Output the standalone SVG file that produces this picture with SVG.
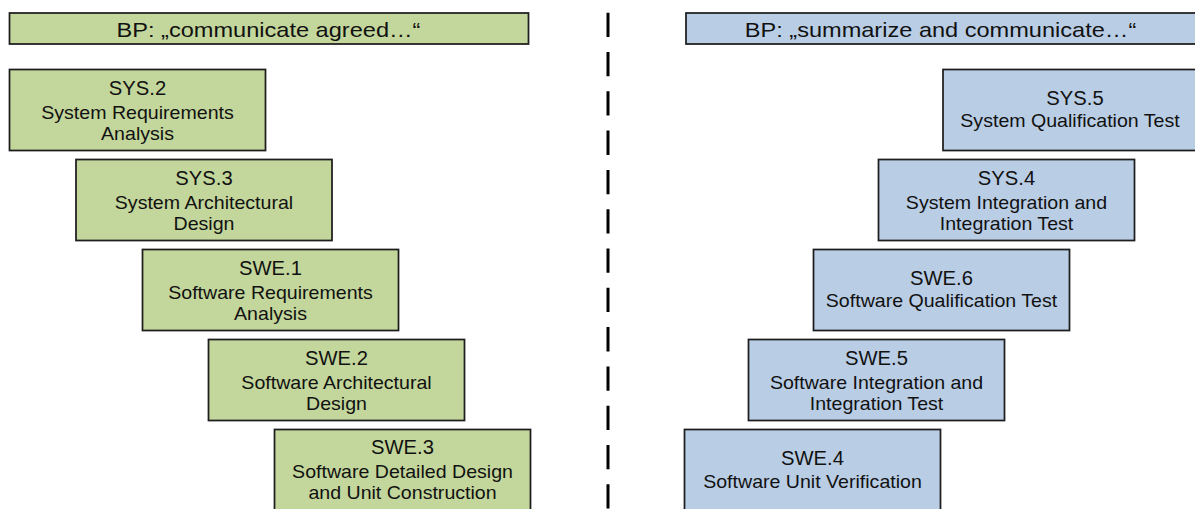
<svg xmlns="http://www.w3.org/2000/svg" width="1195" height="509" viewBox="0 0 1195 509">
<style>
  .g { fill: #c3d69b; stroke: #1e1e1e; stroke-width: 1.75; }
  .bl { fill: #b9cde5; stroke: #1e1e1e; stroke-width: 1.75; }
  text { font-family: "Liberation Sans", Arial, sans-serif; fill: #111; text-anchor: middle; }
  .h { font-size: 20.5px; }
  .t { font-size: 20px; }
  .b { font-size: 17.8px; }
  .sep { stroke: #000; stroke-width: 3; stroke-dasharray: 24.3 15; fill: none; }
</style>
<rect width="1195" height="509" fill="#ffffff"/>

<g id="header-left">
  <rect class="g" x="9.5" y="13" width="519" height="31"/>
  <text class="h" transform="translate(268.5,36.5) scale(1.15,1)">BP: „communicate agreed…“</text>
</g>
<g id="header-right">
  <rect class="bl" x="686" y="13" width="519" height="31"/>
  <text class="h" transform="translate(940.5,36.5) scale(1.15,1)">BP: „summarize and communicate…“</text>
</g>

<g id="connectors">
  <line class="sep" x1="608" y1="12.7" x2="608" y2="509"/>
</g>

<g id="SYS2">
  <rect class="g" x="9.5" y="69.5" width="256" height="81"/>
  <text class="t" transform="translate(137.5,95) scale(1.01,1)">SYS.2</text>
  <text class="b" transform="translate(137.5,118.5) scale(1.1,1)">System Requirements</text>
  <text class="b" transform="translate(137.5,139.5) scale(1.1,1)">Analysis</text>
</g>
<g id="SYS3">
  <rect class="g" x="76" y="159.5" width="256" height="81"/>
  <text class="t" transform="translate(204,185) scale(1.01,1)">SYS.3</text>
  <text class="b" transform="translate(204,208.5) scale(1.1,1)">System Architectural</text>
  <text class="b" transform="translate(204,229.5) scale(1.1,1)">Design</text>
</g>
<g id="SWE1">
  <rect class="g" x="142.5" y="249.5" width="256" height="81"/>
  <text class="t" transform="translate(270.5,275) scale(1.01,1)">SWE.1</text>
  <text class="b" transform="translate(270.5,298.5) scale(1.1,1)">Software Requirements</text>
  <text class="b" transform="translate(270.5,319.5) scale(1.1,1)">Analysis</text>
</g>
<g id="SWE2">
  <rect class="g" x="208.5" y="339.5" width="256" height="81"/>
  <text class="t" transform="translate(336.5,365) scale(1.01,1)">SWE.2</text>
  <text class="b" transform="translate(336.5,388.5) scale(1.1,1)">Software Architectural</text>
  <text class="b" transform="translate(336.5,409.5) scale(1.1,1)">Design</text>
</g>
<g id="SWE3">
  <rect class="g" x="274.5" y="429.5" width="256" height="81"/>
  <text class="t" transform="translate(402.5,453.5) scale(1.01,1)">SWE.3</text>
  <text class="b" transform="translate(402.5,478) scale(1.1,1)">Software Detailed Design</text>
  <text class="b" transform="translate(402.5,498.5) scale(1.1,1)">and Unit Construction</text>
</g>

<g id="SYS5">
  <rect class="bl" x="943" y="69.5" width="256" height="81"/>
  <text class="t" transform="translate(1075,104.5) scale(1.01,1)">SYS.5</text>
  <text class="b" transform="translate(1070,127) scale(1.1,1)">System Qualification Test</text>
</g>
<g id="SYS4">
  <rect class="bl" x="878.5" y="159.5" width="256" height="81"/>
  <text class="t" transform="translate(1006.5,185) scale(1.01,1)">SYS.4</text>
  <text class="b" transform="translate(1006.5,208.5) scale(1.1,1)">System Integration and</text>
  <text class="b" transform="translate(1006.5,229.5) scale(1.1,1)">Integration Test</text>
</g>
<g id="SWE6">
  <rect class="bl" x="813.5" y="249.5" width="256" height="81"/>
  <text class="t" transform="translate(941.5,285) scale(1.01,1)">SWE.6</text>
  <text class="b" transform="translate(941.5,307) scale(1.1,1)">Software Qualification Test</text>
</g>
<g id="SWE5">
  <rect class="bl" x="748.5" y="339.5" width="256" height="81"/>
  <text class="t" transform="translate(876.5,365) scale(1.01,1)">SWE.5</text>
  <text class="b" transform="translate(876.5,388.5) scale(1.1,1)">Software Integration and</text>
  <text class="b" transform="translate(876.5,409.5) scale(1.1,1)">Integration Test</text>
</g>
<g id="SWE4">
  <rect class="bl" x="684.5" y="429.5" width="256" height="81"/>
  <text class="t" transform="translate(812.5,465) scale(1.01,1)">SWE.4</text>
  <text class="b" transform="translate(812.5,487.5) scale(1.1,1)">Software Unit Verification</text>
</g>
</svg>
